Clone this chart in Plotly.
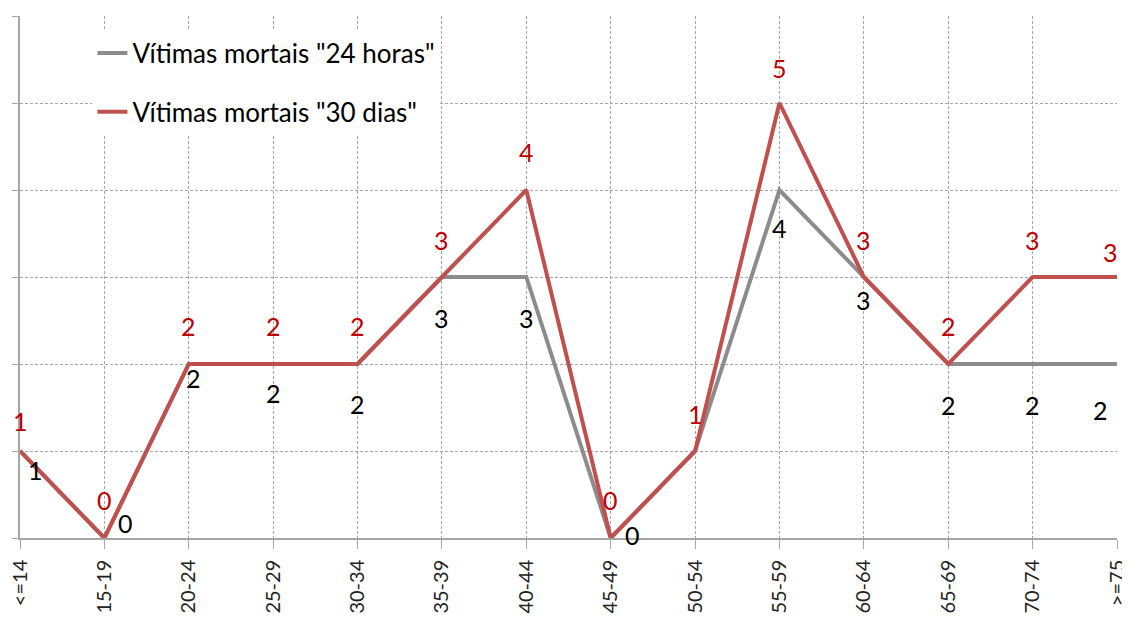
import plotly.graph_objects as go

# age groups and number of fatal victims
faixas = ["<=14", "15-19", "20-24", "25-29", "30-34", "35-39", "40-44",
          "45-49", "50-54", "55-59", "60-64", "65-69", "70-74", ">=75"]
mortos_24h = [1, 0, 2, 2, 2, 3, 3, 0, 1, 4, 3, 2, 2, 2]
mortos_30d = [1, 0, 2, 2, 2, 3, 4, 0, 1, 5, 3, 2, 3, 3]

cinza = "#8c8c8c"
vermelho = "#c0504d"
grelha = "#a6a6a6"
fonte = "Lato"

# label offsets (px) copied from the excel layout
off_24h = [(15, -19), (21, 15), (5, -14), (0, -29), (0, -40), (0, -41), (0, -41),
           (22, 3), (0, 0), (0, -38), (0, -23), (0, -41), (0, -41), (-17, -46)]
off_30d = [(0, 30), (0, 38), (0, 38), (0, 38), (0, 38), (0, 37), (0, 38),
           (0, 38), (0, 37), (0, 35), (0, 37), (0, 38), (0, 37), (-7, 25)]

fig = go.Figure()
fig.add_trace(go.Scatter(x=faixas, y=mortos_24h, mode="lines", name='Vítimas mortais "24 horas"',
                         line=dict(color=cinza, width=4), legendgroup="a"))
fig.add_trace(go.Scatter(x=faixas, y=mortos_30d, mode="lines", name='Vítimas mortais "30 dias"',
                         line=dict(color=vermelho, width=4), legendgroup="b"))

for i, (f, v) in enumerate(zip(faixas, mortos_24h)):
    if i == 8:
        continue  # hidden behind the red "1" in the original
    dx, dy = off_24h[i]
    fig.add_annotation(x=f, y=v, text=str(v), showarrow=False, xshift=dx, yshift=dy,
                       font=dict(family=fonte, size=25, color="black"))
for i, (f, v) in enumerate(zip(faixas, mortos_30d)):
    dx, dy = off_30d[i]
    fig.add_annotation(x=f, y=v, text=str(v), showarrow=False, xshift=dx, yshift=dy,
                       font=dict(family=fonte, size=25, color="#c00000"))

# page body has an 8px margin, so the figure is sized to fit the window
fig.update_layout(
    width=1122, height=609,
    paper_bgcolor="white", plot_bgcolor="white",
    margin=dict(l=12, r=13, t=8, b=79),
    font=dict(family=fonte, color="black"),
    legend=dict(x=0.066, y=0.974, xanchor="left", yanchor="top", bgcolor="white",
                font=dict(family=fonte, size=26), traceorder="grouped", tracegroupgap=22),
    xaxis=dict(type="category", range=[0, 13], showline=True, linecolor=grelha, linewidth=1.5,
               ticks="outside", ticklen=9, tickcolor=grelha, tickangle=-90, automargin=False,
               ticklabelstandoff=3,
               tickfont=dict(family=fonte, size=20, color="#222"),
               showgrid=True, gridcolor=grelha, griddash="3px,2px", gridwidth=1),
    yaxis=dict(range=[0, 6], dtick=1, showticklabels=False, showline=True, linecolor=grelha,
               linewidth=1.5, ticks="outside", ticklen=6, tickcolor=grelha, automargin=False,
               showgrid=True, gridcolor=grelha, griddash="3px,2px", gridwidth=1, zeroline=False),
)

fig.write_html("out.html")
